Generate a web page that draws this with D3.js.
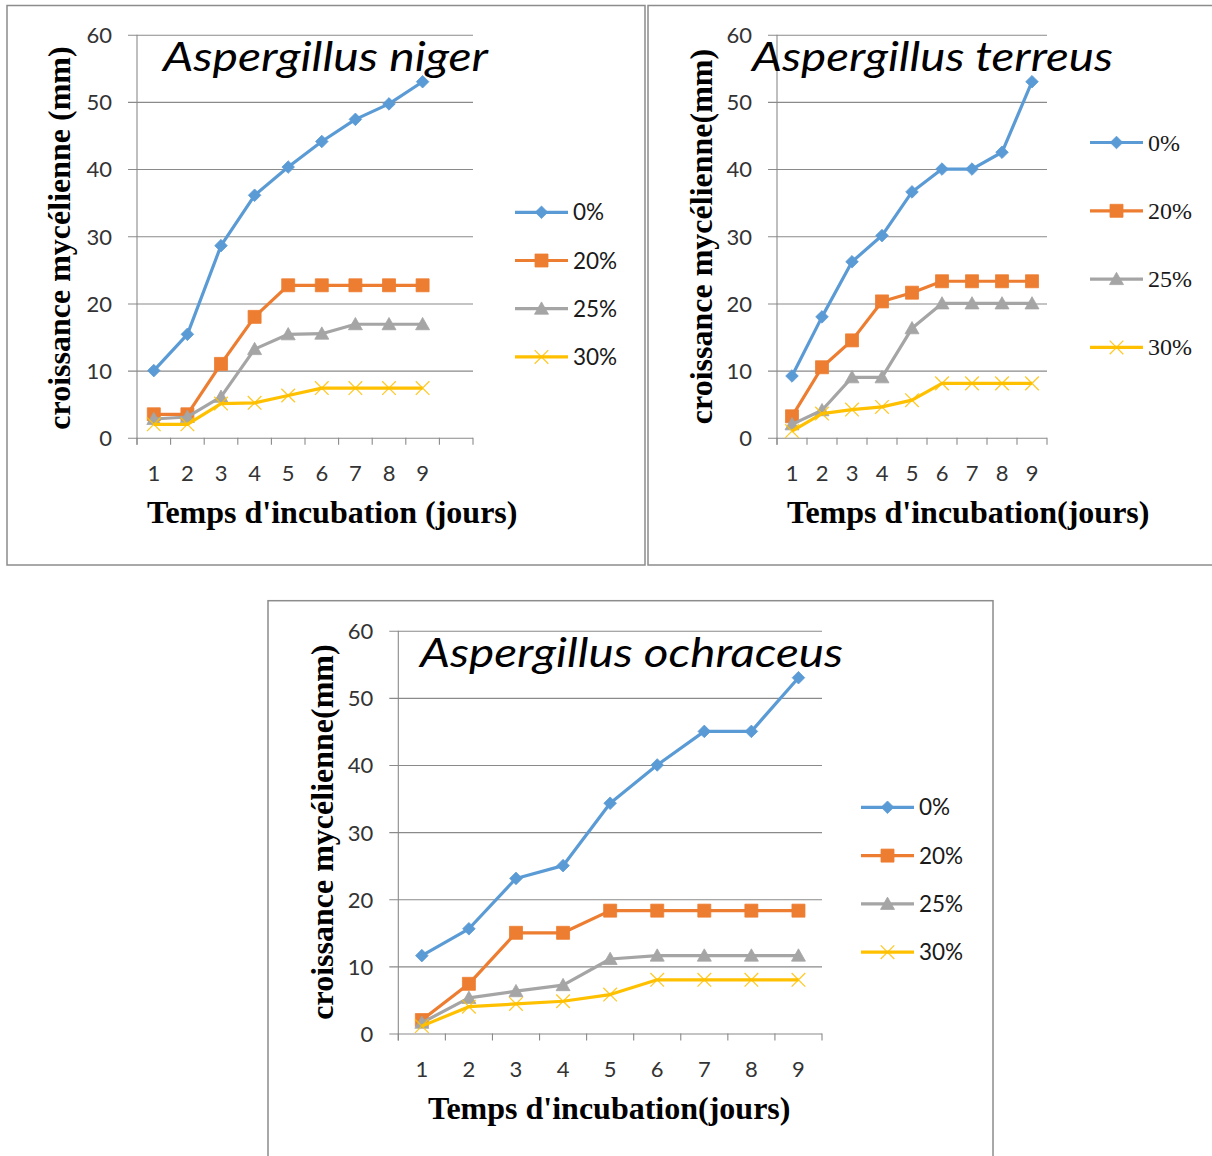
<!DOCTYPE html>
<html>
<head>
<meta charset="utf-8">
<script src="https://cdn.jsdelivr.net/npm/d3@7"></script>
<style>
  html, body { margin: 0; padding: 0; background: #fff; }
  svg { display: block; }
</style>
</head>
<body>
<svg id="fig" width="1212" height="1156"></svg>
<script>
// Incubation days (x categories) and treatment concentrations (series)
const days = ["1", "2", "3", "4", "5", "6", "7", "8", "9"];
const nigerDays = ["1", "2", "3", "4", "5", "6", "7", "8", "9", ""];
const concentrations = ["0%", "20%", "25%", "30%"];
const yTickValues = [0, 10, 20, 30, 40, 50, 60];

// Mycelial growth (mm) — Aspergillus niger
const nigerGrowth0  = [10, 15.4, 28.6, 36.1, 40.3, 44.1, 47.4, 49.7, 53];
const nigerGrowth20 = [3.5, 3.5, 11, 18, 22.7, 22.7, 22.7, 22.7, 22.7];
const nigerGrowth25 = [2.8, 3.1, 6.1, 13.2, 15.4, 15.5, 16.9, 16.9, 16.9];
const nigerGrowth30 = [2, 2, 5.1, 5.2, 6.3, 7.4, 7.4, 7.4, 7.4];

// Mycelial growth (mm) — Aspergillus terreus
const terreusGrowth0  = [9.2, 18, 26.2, 30.1, 36.6, 40, 40, 42.5, 53];
const terreusGrowth20 = [3.2, 10.5, 14.5, 20.3, 21.6, 23.3, 23.3, 23.3, 23.3];
const terreusGrowth25 = [2, 4.1, 9, 9, 16.3, 20, 20, 20, 20];
const terreusGrowth30 = [1, 3.6, 4.2, 4.6, 5.6, 8.1, 8.1, 8.1, 8.1];

// Mycelial growth (mm) — Aspergillus ochraceus
const ochraceusGrowth0  = [11.6, 15.6, 23.1, 25, 34.3, 40, 45, 45, 53];
const ochraceusGrowth20 = [2, 7.4, 15, 15, 18.3, 18.3, 18.3, 18.3, 18.3];
const ochraceusGrowth25 = [1.6, 5.3, 6.3, 7.2, 11.1, 11.6, 11.6, 11.6, 11.6];
const ochraceusGrowth30 = [1.1, 4, 4.4, 4.8, 5.8, 8, 8, 8, 8];

const seriesColors = ["#5B9BD5", "#ED7D31", "#A5A5A5", "#FFC000"];
const seriesMarkers = ["diamond", "square", "triangle", "cross"];

const svg = d3.select("#fig");

const panels = [
  {
    title: "Aspergillus niger", titleX: 163, titleY: 71, titleLen: 325,
    categories: nigerDays,
    series: [nigerGrowth0, nigerGrowth20, nigerGrowth25, nigerGrowth30],
    frame: [7, 5.5, 645, 565],
    plotLeft: 137, plotRight: 473, topY: 34.7, zeroY: 437.8,
    yTitle: "croissance mycélienne (mm)", yTitleX: 70, yTitleY: 238,
    xTitle: "Temps d'incubation (jours)", xTitleX: 147, xTitleY: 523,
    legendX: 515, legendY: 212.3, legendDy: 48.2,
    legendFont: "Lato, 'Open Sans', sans-serif", legendSize: 22.5, legendShift: 8
  },
  {
    title: "Aspergillus terreus", titleX: 752, titleY: 71, titleLen: 361,
    categories: days,
    series: [terreusGrowth0, terreusGrowth20, terreusGrowth25, terreusGrowth30],
    frame: [648, 5.5, 1216, 565],
    plotLeft: 777, plotRight: 1047, topY: 34.7, zeroY: 437.8,
    yTitle: "croissance mycélienne(mm)", yTitleX: 712, yTitleY: 236.5,
    xTitle: "Temps d'incubation(jours)", xTitleX: 787, xTitleY: 523,
    legendX: 1090, legendY: 142.5, legendDy: 68.3,
    legendFont: "'Liberation Serif', 'Times New Roman', serif", legendSize: 24, legendShift: 8
  },
  {
    title: "Aspergillus ochraceus", titleX: 420, titleY: 667, titleLen: 423,
    categories: days,
    series: [ochraceusGrowth0, ochraceusGrowth20, ochraceusGrowth25, ochraceusGrowth30],
    frame: [268, 600.7, 993, 1170],
    plotLeft: 398.3, plotRight: 822, topY: 630.7, zeroY: 1033.5,
    yTitle: "croissance mycélienne(mm)", yTitleX: 333, yTitleY: 832,
    xTitle: "Temps d'incubation(jours)", xTitleX: 428, xTitleY: 1118.5,
    legendX: 861, legendY: 807.3, legendDy: 48.3,
    legendFont: "Lato, 'Open Sans', sans-serif", legendSize: 22.5, legendShift: 8
  }
];

const gridColor = "#8a8a8a";
const tickFont = "Lato, 'Open Sans', sans-serif";
const labelColor = "#333333";

// Marker glyphs, centred on the origin
function markerPath(kind) {
  switch (kind) {
    case "diamond":  return "M0,-6.3L6.3,0L0,6.3L-6.3,0Z";
    case "square":   return "M-6.5,-6.5H6.5V6.5H-6.5Z";
    case "triangle": return "M0,-6.8L7,5.5L-7,5.5Z";
    default:         return "M-6.8,-6.8L6.8,6.8M-6.8,6.8L6.8,-6.8";
  }
}

function drawMarker(g, kind, color, cx, cy) {
  const m = g.append("path")
    .attr("d", markerPath(kind))
    .attr("transform", `translate(${cx},${cy})`);
  if (kind === "cross") {
    m.attr("fill", "none").attr("stroke", color).attr("stroke-width", 1.3).attr("stroke-opacity", 0.85);
  } else {
    m.attr("fill", color).attr("stroke", color).attr("stroke-width", 0.8);
  }
}

function drawPanel(p) {
  const g = svg.append("g");

  // outer frame
  g.append("rect")
    .attr("x", p.frame[0]).attr("y", p.frame[1])
    .attr("width", p.frame[2] - p.frame[0]).attr("height", p.frame[3] - p.frame[1])
    .attr("fill", "none").attr("stroke", "#8c8c8c").attr("stroke-width", 1.5);

  const x = d3.scaleBand().domain(p.categories).range([p.plotLeft, p.plotRight]).padding(0);
  const y = d3.scaleLinear().domain([0, 60]).range([p.zeroY, p.topY]);

  // horizontal gridlines with value labels (gridlines stick out left as tick marks)
  const tickOut = 9;
  const yAxis = d3.axisLeft(y)
    .tickValues(yTickValues)
    .tickSizeInner(-(p.plotRight - p.plotLeft + tickOut))
    .tickSizeOuter(0)
    .tickPadding(16)
    .tickFormat(d3.format("d"));
  const ya = g.append("g")
    .attr("transform", `translate(${p.plotLeft - tickOut},0)`)
    .call(yAxis);
  ya.select(".domain").remove();
  ya.selectAll(".tick line").attr("stroke", gridColor).attr("stroke-width", 1.1);
  ya.selectAll(".tick text")
    .attr("font-family", tickFont).attr("font-size", 22).attr("fill", labelColor)
    .attr("dy", "0.36em");

  // vertical axis line
  g.append("line")
    .attr("x1", p.plotLeft).attr("x2", p.plotLeft)
    .attr("y1", y(60)).attr("y2", y(0) + 7)
    .attr("stroke", gridColor).attr("stroke-width", 1.1);

  // category labels along the bottom
  const xAxis = d3.axisBottom(x).tickSize(0).tickPadding(0);
  const xa = g.append("g")
    .attr("transform", `translate(0,${y(0)})`)
    .call(xAxis);
  xa.select(".domain").remove();
  xa.selectAll(".tick text")
    .attr("font-family", tickFont).attr("font-size", 22).attr("fill", labelColor)
    .attr("dy", null).attr("y", 43);

  // tick marks sit on category boundaries
  const bounds = p.categories.map(c => x(c)).concat([p.plotRight]);
  g.selectAll(null).data(bounds).join("line")
    .attr("x1", d => d).attr("x2", d => d)
    .attr("y1", y(0)).attr("y2", y(0) + 7)
    .attr("stroke", gridColor).attr("stroke-width", 1.1);

  // series lines and markers
  const cx = i => x(p.categories[i]) + x.bandwidth() / 2;
  const line = d3.line().x((d, i) => cx(i)).y(d => y(d));
  p.series.forEach((vals, s) => {
    const sg = g.append("g");
    sg.append("path")
      .attr("d", line(vals))
      .attr("fill", "none")
      .attr("stroke", seriesColors[s])
      .attr("stroke-width", 3.2)
      .attr("stroke-linejoin", "round");
    vals.forEach((v, i) => drawMarker(sg, seriesMarkers[s], seriesColors[s], cx(i), y(v)));
  });

  // chart title
  g.append("text")
    .attr("x", p.titleX).attr("y", p.titleY)
    .attr("font-family", "Lato, 'Open Sans', sans-serif")
    .attr("font-style", "italic")
    .attr("font-size", 41)
    .attr("textLength", p.titleLen)
    .attr("lengthAdjust", "spacingAndGlyphs")
    .attr("fill", "#000")
    .text(p.title);

  // axis titles
  g.append("text")
    .attr("transform", `translate(${p.yTitleX},${p.yTitleY}) rotate(-90)`)
    .attr("text-anchor", "middle")
    .attr("font-family", "'Liberation Serif', 'Times New Roman', serif")
    .attr("font-weight", "bold").attr("font-size", 32).attr("fill", "#000")
    .text(p.yTitle);

  g.append("text")
    .attr("x", p.xTitleX).attr("y", p.xTitleY)
    .attr("font-family", "'Liberation Serif', 'Times New Roman', serif")
    .attr("font-weight", "bold").attr("font-size", 32).attr("fill", "#000")
    .text(p.xTitle);

  // legend
  concentrations.forEach((name, s) => {
    const ly = p.legendY + s * p.legendDy;
    g.append("line")
      .attr("x1", p.legendX).attr("x2", p.legendX + 53)
      .attr("y1", ly).attr("y2", ly)
      .attr("stroke", seriesColors[s]).attr("stroke-width", 3.2);
    drawMarker(g, seriesMarkers[s], seriesColors[s], p.legendX + 26.5, ly);
    g.append("text")
      .attr("x", p.legendX + 58).attr("y", ly + p.legendShift)
      .attr("font-family", p.legendFont).attr("font-size", p.legendSize)
      .attr("fill", "#1a1a1a")
      .text(name);
  });
}

panels.forEach(drawPanel);
</script>
</body>
</html>
